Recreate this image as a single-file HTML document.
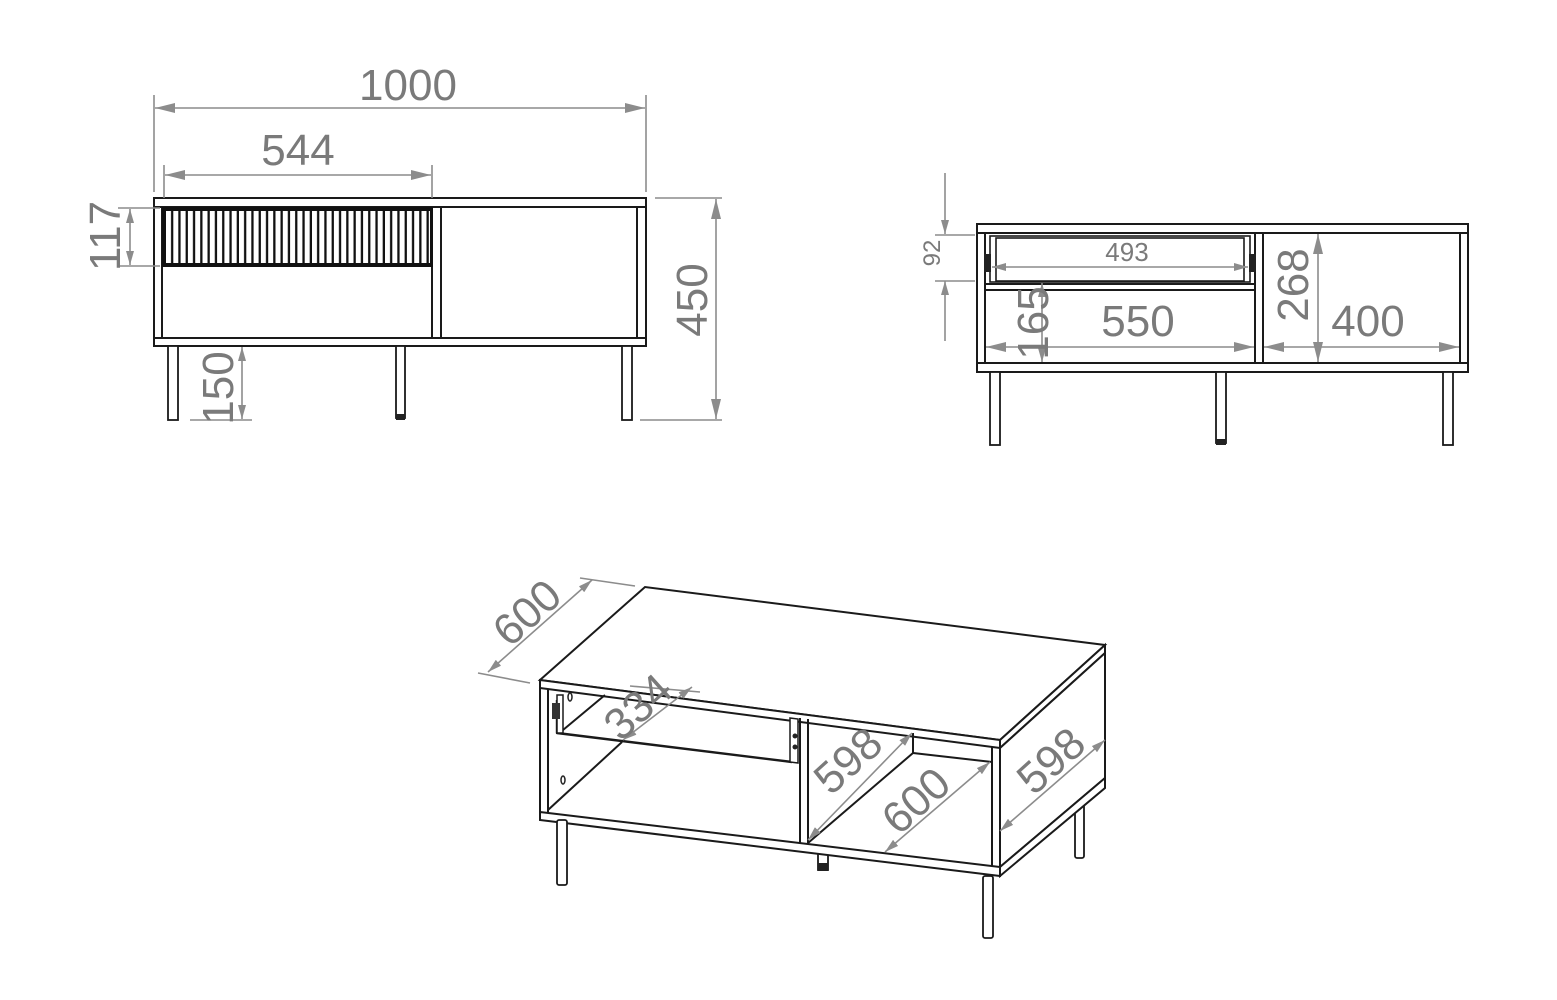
<!DOCTYPE html>
<html><head><meta charset="utf-8"><style>
html,body{margin:0;padding:0;background:#fff}
svg{display:block}
.k{stroke:#1a1a1a;stroke-width:2;fill:none;stroke-linejoin:round}
.kw{stroke:#1a1a1a;stroke-width:2;fill:#fff}
.d{stroke:#8c8c8c;stroke-width:1.6;fill:none}
.t{fill:#7a7a7a;font-family:"Liberation Sans",sans-serif;font-weight:300}
</style></head><body>
<svg width="1557" height="1000" viewBox="0 0 1557 1000" xmlns="http://www.w3.org/2000/svg">
<defs>
<marker id="a" viewBox="0 0 20 10" refX="20" refY="5" markerWidth="20" markerHeight="10" markerUnits="userSpaceOnUse" orient="auto-start-reverse"><path d="M0,0 L20,5 L0,10 Z" fill="#8c8c8c"/></marker>
<marker id="s" viewBox="0 0 14 8" refX="14" refY="4" markerWidth="14" markerHeight="8" markerUnits="userSpaceOnUse" orient="auto-start-reverse"><path d="M0,0 L14,4 L0,8 Z" fill="#8c8c8c"/></marker>
<pattern id="fl" x="166" y="0" width="7.3" height="100" patternUnits="userSpaceOnUse"><rect x="0" y="0" width="5" height="100" fill="#fff"/></pattern>
</defs>

<!-- ===== FRONT VIEW ===== -->
<rect class="kw" x="154" y="198" width="492" height="9"/>
<rect class="kw" x="154" y="207" width="8" height="131"/>
<rect class="kw" x="637" y="207" width="9" height="131"/>
<rect class="kw" x="432" y="207" width="9" height="131"/>
<rect class="kw" x="154" y="338" width="492" height="8"/>
<rect x="162" y="207" width="271" height="60" fill="#111"/>
<rect x="166" y="211" width="264" height="52" fill="url(#fl)"/>
<rect class="kw" x="168" y="346" width="10" height="74" style="stroke-width:1.8"/>
<rect class="kw" x="396" y="346" width="9" height="72" style="stroke-width:1.8"/>
<rect x="396" y="414" width="9" height="6" fill="#222"/>
<rect class="kw" x="622" y="346" width="10" height="74" style="stroke-width:1.8"/>
<!-- dims -->
<line class="d" x1="154" y1="95" x2="154" y2="192"/>
<line class="d" x1="646" y1="95" x2="646" y2="192"/>
<line class="d" x1="155" y1="108" x2="645" y2="108" marker-start="url(#a)" marker-end="url(#a)"/>
<text class="t" x="408" y="100" font-size="44" text-anchor="middle">1000</text>
<line class="d" x1="164" y1="165" x2="164" y2="198"/>
<line class="d" x1="432" y1="165" x2="432" y2="198"/>
<line class="d" x1="165" y1="175" x2="431" y2="175" marker-start="url(#a)" marker-end="url(#a)"/>
<text class="t" x="298" y="165" font-size="44" text-anchor="middle">544</text>
<line class="d" x1="118" y1="208" x2="160" y2="208"/>
<line class="d" x1="118" y1="266" x2="160" y2="266"/>
<line class="d" x1="130" y1="209" x2="130" y2="265" marker-start="url(#s)" marker-end="url(#s)"/>
<text class="t" font-size="44" text-anchor="middle" transform="translate(120,236) rotate(-90)">117</text>
<line class="d" x1="655" y1="198" x2="722" y2="198"/>
<line class="d" x1="640" y1="420" x2="722" y2="420"/>
<line class="d" x1="716" y1="199" x2="716" y2="419" marker-start="url(#a)" marker-end="url(#a)"/>
<text class="t" font-size="44" text-anchor="middle" transform="translate(707,300) rotate(-90)">450</text>
<line class="d" x1="190" y1="420" x2="252" y2="420"/>
<line class="d" x1="242" y1="347" x2="242" y2="419" marker-start="url(#s)" marker-end="url(#s)"/>
<text class="t" font-size="44" text-anchor="middle" transform="translate(233,388) rotate(-90)">150</text>

<!-- ===== BACK/INSIDE VIEW ===== -->
<rect class="kw" x="977" y="224" width="491" height="9"/>
<rect class="kw" x="977" y="233" width="8" height="130"/>
<rect class="kw" x="1460" y="233" width="8" height="130"/>
<rect class="kw" x="1255" y="233" width="8" height="130"/>
<rect class="kw" x="977" y="363" width="491" height="9"/>
<rect class="kw" x="985" y="284" width="270" height="6"/>
<rect class="kw" x="990" y="236" width="260" height="46" style="stroke-width:1.6"/>
<rect class="kw" x="996" y="238" width="248" height="43" style="stroke-width:1.6"/>
<rect x="984" y="254" width="7" height="18" fill="#222"/>
<rect x="1249" y="254" width="7" height="18" fill="#222"/>
<rect class="kw" x="990" y="372" width="10" height="73" style="stroke-width:1.8"/>
<rect class="kw" x="1216" y="372" width="10" height="71" style="stroke-width:1.8"/>
<rect x="1216" y="439" width="10" height="6" fill="#222"/>
<rect class="kw" x="1443" y="372" width="10" height="73" style="stroke-width:1.8"/>
<!-- dims -->
<line class="d" x1="945" y1="173" x2="945" y2="234" marker-end="url(#s)"/>
<line class="d" x1="945" y1="341" x2="945" y2="281" marker-end="url(#s)"/>
<line class="d" x1="935" y1="235" x2="975" y2="235"/>
<line class="d" x1="935" y1="281" x2="975" y2="281"/>
<text class="t" font-size="24" text-anchor="middle" transform="translate(940,253) rotate(-90)">92</text>
<line class="d" x1="992" y1="267" x2="1248" y2="267" marker-start="url(#s)" marker-end="url(#s)"/>
<text class="t" x="1127" y="261" font-size="26" text-anchor="middle">493</text>
<line class="d" x1="986" y1="347" x2="1254" y2="347" marker-start="url(#a)" marker-end="url(#a)"/>
<text class="t" x="1138" y="336" font-size="44" text-anchor="middle">550</text>
<line class="d" x1="1042" y1="283" x2="1042" y2="362" marker-start="url(#s)" marker-end="url(#s)"/>
<text class="t" font-size="44" text-anchor="middle" transform="translate(1048,323) rotate(-90)">165</text>
<line class="d" x1="1318" y1="234" x2="1318" y2="362" marker-start="url(#a)" marker-end="url(#a)"/>
<text class="t" font-size="44" text-anchor="middle" transform="translate(1308,285) rotate(-90)">268</text>
<line class="d" x1="1264" y1="347" x2="1459" y2="347" marker-start="url(#a)" marker-end="url(#a)"/>
<text class="t" x="1368" y="336" font-size="44" text-anchor="middle">400</text>

<!-- ===== ISO VIEW ===== -->
<rect class="kw" x="1075" y="790" width="9" height="68" rx="2" style="stroke-width:1.8"/>
<rect class="kw" x="818" y="850" width="10" height="20" style="stroke-width:1.8"/>
<rect x="818" y="863" width="10" height="8" fill="#222"/>
<path class="kw" d="M540,680 L645,587 L1105,645 L1000,740 Z"/>
<path class="kw" d="M540,680 L1000,740 L1000,748 L540,688 Z"/>
<path class="kw" d="M1000,740 L1105,645 L1105,653 L1000,748 Z"/>
<path class="kw" d="M1000,748 L1105,653 L1105,778 L1000,867 Z"/>
<path class="kw" d="M1000,867 L1105,778 L1105,788 L1000,876 Z"/>
<line class="k" x1="992" y1="747" x2="992" y2="866"/>
<line class="k" x1="1000" y1="748" x2="1000" y2="876"/>
<line class="k" x1="540" y1="688" x2="540" y2="820"/>
<line class="k" x1="548" y1="689" x2="548" y2="812"/>
<path class="kw" d="M540,812 L1000,867 L1000,876 L540,820 Z"/>
<line class="k" x1="800" y1="718" x2="800" y2="843"/>
<line class="k" x1="808" y1="719" x2="808" y2="844"/>
<line class="k" x1="548" y1="810" x2="622" y2="742"/>
<line class="k" x1="563" y1="730" x2="605" y2="695"/>
<path class="k" d="M557,700 L557,733 L792,762" style="stroke-width:2.4"/>
<path class="kw" d="M557,695 L563,695 L563,733 L557,733 Z" style="stroke-width:1.5"/>
<path class="kw" d="M790,718 L798,719 L798,763 L790,762 Z" style="stroke-width:1.5"/>
<rect x="552" y="703" width="8" height="16" fill="#333"/>
<ellipse cx="570" cy="697" rx="2" ry="4" fill="none" stroke="#222" stroke-width="1.5"/>
<ellipse cx="563" cy="780" rx="2" ry="4" fill="none" stroke="#222" stroke-width="1.5"/>
<circle cx="795" cy="736" r="2.5" fill="#222"/><circle cx="795" cy="747" r="2.5" fill="#222"/>
<line class="k" x1="808" y1="843" x2="913" y2="753"/>
<line class="k" x1="913" y1="733" x2="913" y2="753"/>
<line class="k" x1="913" y1="753" x2="992" y2="762"/>
<rect class="kw" x="557" y="820" width="10" height="65" rx="2" style="stroke-width:1.8"/>
<rect class="kw" x="983" y="876" width="10" height="62" rx="2" style="stroke-width:1.8"/>
<line class="d" x1="478" y1="673" x2="530" y2="683"/>
<line class="d" x1="580" y1="578" x2="635" y2="586"/>
<line class="d" x1="488" y1="672" x2="592" y2="580" marker-start="url(#s)" marker-end="url(#s)"/>
<text class="t" font-size="44" text-anchor="middle" transform="translate(537,624) rotate(-42)">600</text>
<line class="d" x1="630" y1="686" x2="700" y2="692"/>
<line class="d" x1="623" y1="740" x2="692" y2="687" marker-start="url(#s)" marker-end="url(#s)"/>
<text class="t" font-size="44" text-anchor="middle" transform="translate(648,718) rotate(-42)">334</text>
<line class="d" x1="808" y1="840" x2="912" y2="733" marker-start="url(#s)" marker-end="url(#s)"/>
<text class="t" font-size="44" text-anchor="middle" transform="translate(858,772) rotate(-42)">598</text>
<line class="d" x1="885" y1="852" x2="990" y2="762" marker-start="url(#s)" marker-end="url(#s)"/>
<text class="t" font-size="44" text-anchor="middle" transform="translate(926,812) rotate(-42)">600</text>
<line class="d" x1="1000" y1="831" x2="1105" y2="740" marker-start="url(#s)" marker-end="url(#s)"/>
<text class="t" font-size="44" text-anchor="middle" transform="translate(1061,772) rotate(-42)">598</text>
</svg>
</body></html>
